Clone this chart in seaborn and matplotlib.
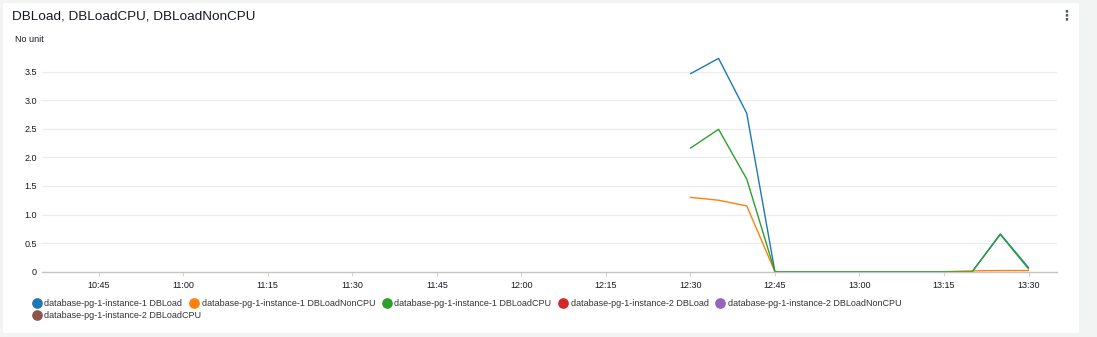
import numpy as np
import pandas as pd
import matplotlib
matplotlib.use("Agg")
import matplotlib.pyplot as plt
import matplotlib.dates as mdates
import seaborn as sns
from matplotlib.lines import Line2D
from matplotlib.patches import Rectangle

# ---------------- data ----------------
times = ["12:30", "12:35", "12:40", "12:45", "12:50", "12:55", "13:00",
         "13:05", "13:10", "13:15", "13:20", "13:25", "13:30"]
inst1_dbload = [3.46, 3.73, 2.77, 0, 0, 0, 0, 0, 0, 0, 0, 0.66, 0.07]
inst1_dbload_noncpu = [1.30, 1.25, 1.15, 0, 0, 0, 0, 0, 0, 0, 0.015, 0.02, 0.02]
inst1_dbload_cpu = [2.16, 2.49, 1.62, 0, 0, 0, 0, 0, 0, 0, 0, 0.65, 0.05]

series_names = [
    "database-pg-1-instance-1 DBLoad",
    "database-pg-1-instance-1 DBLoadNonCPU",
    "database-pg-1-instance-1 DBLoadCPU",
    "database-pg-1-instance-2 DBLoad",
    "database-pg-1-instance-2 DBLoadNonCPU",
    "database-pg-1-instance-2 DBLoadCPU",
]
series_colors = ["#1f77b4", "#ff7f0e", "#2ca02c", "#d62728", "#9467bd", "#8c564b"]

ytick_values = [0, 0.5, 1.0, 1.5, 2.0, 2.5, 3.0, 3.5]
ytick_labels = ["0", "0.5", "1.0", "1.5", "2.0", "2.5", "3.0", "3.5"]

title = "DBLoad, DBLoadCPU, DBLoadNonCPU"
unit_label = "No unit"
day = "2024-01-01"
x_start, x_end = "10:35", "13:35"

# ---------------- long-form table ----------------
rows = []
for name, vals in zip(series_names[:3], [inst1_dbload, inst1_dbload_noncpu, inst1_dbload_cpu]):
    for t, v in zip(times, vals):
        rows.append({"time": pd.Timestamp(f"{day} {t}"), "value": v, "series": name})
df = pd.DataFrame(rows)

# ---------------- figure ----------------
sns.set_theme(style="white")
plt.rcParams["font.family"] = ["Liberation Sans", "DejaVu Sans"]

W, H = 1097, 337
fig = plt.figure(figsize=(W / 100, H / 100), dpi=100, facecolor="#f2f3f3")
fig.patches.append(Rectangle((3 / W, 1 - 333 / H), 1076 / W, 330 / H,
                             transform=fig.transFigure, facecolor="white",
                             edgecolor="none", zorder=-5))

ax_left, ax_right = 42.3, 1056.7
ax_bottom, ax_top = 271.7, 51.5
ax = fig.add_axes([ax_left / W, 1 - ax_bottom / H, (ax_right - ax_left) / W,
                   (ax_bottom - ax_top) / H])
ax.set_facecolor("none")
ax.set_zorder(1)

sns.lineplot(data=df, x="time", y="value", hue="series", hue_order=series_names,
             palette=series_colors, legend=False, linewidth=1.0, ax=ax)

ax.set_xlim(pd.Timestamp(f"{day} {x_start}"), pd.Timestamp(f"{day} {x_end}"))
ax.set_ylim(0, 3.85)
ax.set_xlabel("")
ax.set_ylabel("")

ax.xaxis.set_major_locator(mdates.MinuteLocator(byminute=[0, 15, 30, 45]))
ax.xaxis.set_major_formatter(mdates.DateFormatter("%H:%M"))
ax.set_yticks(ytick_values, ytick_labels)

ax.yaxis.grid(True, color="#eaeded", linewidth=0.9)
ax.xaxis.grid(False)
ax.set_axisbelow(True)
for s in ["top", "right", "left"]:
    ax.spines[s].set_visible(False)
ax.spines["bottom"].set_color("#c4c4c4")
ax.spines["bottom"].set_linewidth(1.0)

ax.tick_params(axis="y", length=0, pad=4, labelsize=6.5, labelcolor="#16191f")
ax.tick_params(axis="x", length=3, width=0.8, color="#d5d5d5", pad=4,
               labelsize=6.5, labelcolor="#16191f", bottom=True)

# ---------------- texts ----------------
fig.text(12.5 / W, 1 - 19.3 / H, title, fontsize=9.7, color="#16191f",
         ha="left", va="baseline")
fig.text(14.7 / W, 1 - 42 / H, unit_label, fontsize=6.5, color="#16191f",
         ha="left", va="baseline")
fig.text(1066 / W, 1 - 15.5 / H, "\u22ee", fontsize=10, fontweight="bold",
         color="#545b64", ha="center", va="center", family=["DejaVu Sans"])

# ---------------- legend ----------------
handles = [Line2D([], [], marker="o", linestyle="", markersize=7.7,
                  markeredgewidth=0, color=c) for c in series_colors]
leg_kw = dict(frameon=False, fontsize=6.5, handlelength=1.2, handletextpad=0.25,
              columnspacing=0.68, borderpad=0, borderaxespad=0,
              labelcolor="#333333", loc="center left")
fig.legend(handles[:5], series_names[:5], ncol=5,
           bbox_to_anchor=(31.3 / W, 1 - 303.3 / H), **leg_kw)
fig.legend(handles[5:], series_names[5:], ncol=1,
           bbox_to_anchor=(31.3 / W, 1 - 315.7 / H), **leg_kw)

fig.savefig("out.png", dpi=100, facecolor=fig.get_facecolor())
